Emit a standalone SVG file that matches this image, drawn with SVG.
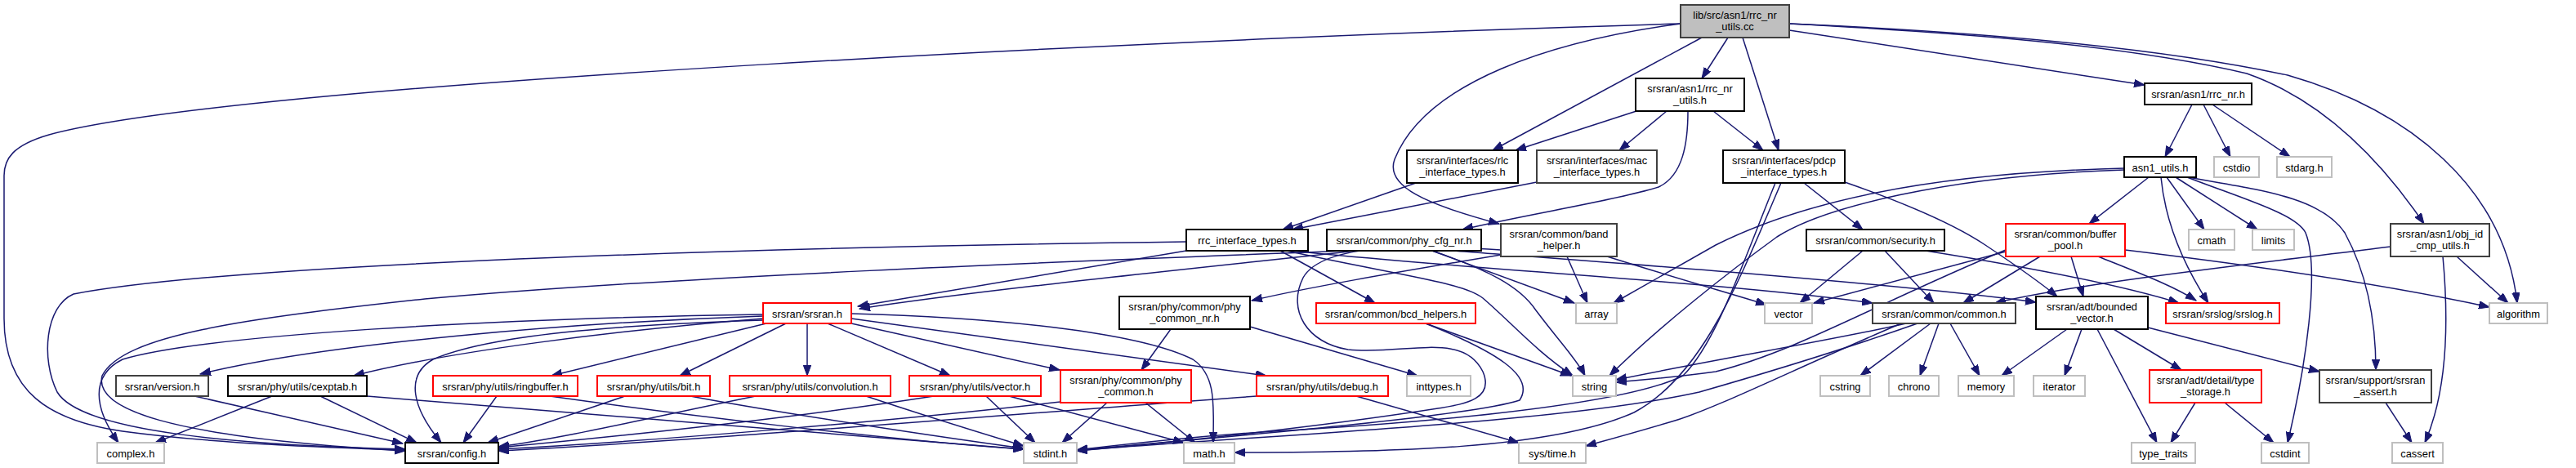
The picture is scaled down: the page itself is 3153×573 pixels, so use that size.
<svg xmlns="http://www.w3.org/2000/svg" width="3153" height="573" viewBox="0 0 3153 573">
<style>
text{font-family:"Liberation Sans",Arial,sans-serif;font-size:12.9px;fill:#000;text-anchor:middle}
rect{fill:#fff;stroke-width:2}
.k rect{stroke:#000}
.d rect{stroke:#404040}
.g rect{stroke:#bfbfbf}
.r rect{stroke:#ff0000}
.root rect{fill:#bfbfbf;stroke:#404040}
#edges path{fill:none;stroke:#191970;stroke-width:1.5;marker-end:url(#ah)}
</style>
<defs>
<marker id="ah" markerUnits="userSpaceOnUse" markerWidth="14" markerHeight="10" refX="13" refY="4.75" orient="auto">
<path d="M0,0 L13,4.75 L0,9.5 z" fill="#191970" stroke="#191970" stroke-width="1"/>
</marker>
</defs>
<rect x="0" y="0" width="3153" height="573" style="fill:#fff;stroke:none"/>
<g id="edges">
<path d="M2115,46 L2083,96"/>
<path d="M2083,46 L1827,184"/>
<path d="M2133,46 L2177,184"/>
<path d="M2057,29 C1900,50 1745,100 1707,195 C1695,228 1745,250 1835,274"/>
<path d="M2057,29 C1500,45 300,100 60,165 C15,178 5,195 5,215 L5,390 C5,480 60,515 150,528 C260,543 400,548 496,551"/>
<path d="M2190,37 L2625,104"/>
<path d="M2190,29 C2400,40 2600,55 2750,90 C2850,125 2920,205 2967,274"/>
<path d="M2190,29 C2450,40 2650,60 2800,92 C2950,135 3065,230 3081,371"/>
<path d="M2003,136 L1855,184"/>
<path d="M2040,136 L1982,184"/>
<path d="M2097,136 L2158,184"/>
<path d="M2066,136 C2066,175 2060,215 2030,229 C1980,245 1870,262 1790,281"/>
<path d="M1733,224 L1570,281"/>
<path d="M1881,223 L1582,281"/>
<path d="M2208,224 L2280,281"/>
<path d="M2258,223 C2350,255 2400,280 2430,300 C2460,320 2490,340 2518,363"/>
<path d="M2173,224 C2130,330 2100,420 2060,460 C1980,500 1700,520 1560,528 C1450,535 1370,545 1318,551"/>
<path d="M2180,224 C2130,340 2085,460 2000,505 C1900,550 1700,554 1511,554"/>
<path d="M2683,128 L2650,192"/>
<path d="M2697,128 L2730,192"/>
<path d="M2708,128 L2803,192"/>
<path d="M2630,217 L2557,274"/>
<path d="M2645,217 C2650,270 2670,320 2703,371"/>
<path d="M2652,217 L2698,281"/>
<path d="M2663,217 L2763,281"/>
<path d="M2677,217 C2750,245 2810,262 2822,285 C2840,330 2822,450 2800,542"/>
<path d="M2678,217 C2760,232 2840,240 2870,285 C2900,340 2908,400 2908,453"/>
<path d="M2600,206 C2350,212 2200,250 2100,300 L1975,371"/>
<path d="M2600,208 C2380,215 2230,255 2175,290 C2120,330 2030,400 1970,460"/>
<path d="M3007,314 L3070,371"/>
<path d="M2990,314 C2998,400 2995,480 2968,542"/>
<path d="M2926,302 C2800,318 2550,345 2442,371"/>
<path d="M2601,306 C2800,330 2950,355 3047,376"/>
<path d="M2568,314 C2620,335 2660,350 2688,368"/>
<path d="M2455,308 L2220,371"/>
<path d="M2497,314 L2403,371"/>
<path d="M2535,314 L2550,363"/>
<path d="M2455,306 C2300,370 2200,430 2100,455 C2050,462 2010,465 1978,468"/>
<path d="M2280,307 L2203,371"/>
<path d="M2307,307 L2367,371"/>
<path d="M2357,307 C2500,330 2600,350 2667,371"/>
<path d="M2363,396 L2277,460"/>
<path d="M2373,396 L2350,460"/>
<path d="M2387,396 L2423,460"/>
<path d="M2333,396 C2250,415 2100,440 1978,465"/>
<path d="M2347,396 C2250,430 2150,460 2080,480 C1900,520 1500,535 1318,552"/>
<path d="M2327,396 C2200,450 2100,500 2050,515 C2000,530 1970,538 1941,546"/>
<path d="M2530,403 L2450,460"/>
<path d="M2548,403 L2527,460"/>
<path d="M2567,403 L2640,542"/>
<path d="M2587,403 L2670,453"/>
<path d="M2629,401 L2839,455"/>
<path d="M2687,493 L2657,542"/>
<path d="M2723,493 L2783,542"/>
<path d="M2920,493 L2952,542"/>
<path d="M1452,307 L1050,375"/>
<path d="M1452,296 C1000,302 300,320 90,360 C55,375 50,440 70,480 C100,530 300,545 496,550"/>
<path d="M1567,307 L1683,371"/>
<path d="M1575,307 C1700,335 1790,345 1815,365 C1850,395 1880,430 1925,460"/>
<path d="M1580,307 C1800,330 2100,345 2292,371"/>
<path d="M1660,307 C1450,330 1200,355 1052,378"/>
<path d="M1650,307 C1300,320 800,340 520,366 C300,390 150,410 125,460 C115,500 200,535 496,552"/>
<path d="M1753,307 L1927,371"/>
<path d="M1753,307 C1820,330 1860,350 1880,380 C1910,420 1930,440 1940,460"/>
<path d="M1777,307 C1950,320 2300,345 2492,370"/>
<path d="M1837,312 C1700,335 1600,352 1532,368"/>
<path d="M1918,314 L1943,371"/>
<path d="M1967,314 C2050,340 2120,360 2162,373"/>
<path d="M1837,306 C1750,300 1620,295 1595,340 C1575,380 1600,420 1650,428 C1720,435 1790,405 1815,455 C1830,490 1790,495 1760,500 C1600,525 1400,545 1318,552"/>
<path d="M934,387 C700,395 400,420 245,458"/>
<path d="M934,390 C750,405 550,430 433,460"/>
<path d="M934,385 C600,390 250,410 150,440 C110,460 115,500 145,542"/>
<path d="M934,392 C750,398 600,410 530,440 C495,460 505,500 540,542"/>
<path d="M938,396 L675,460"/>
<path d="M962,396 L832,460"/>
<path d="M988,396 L988,460"/>
<path d="M1013,396 L1163,460"/>
<path d="M1042,396 L1297,453"/>
<path d="M1042,390 L1550,460"/>
<path d="M1042,384 C1250,390 1400,410 1460,440 C1490,460 1485,500 1485,542"/>
<path d="M238,485 L493,543"/>
<path d="M333,485 L190,542"/>
<path d="M392,485 L510,542"/>
<path d="M449,485 C700,505 1000,530 1253,550"/>
<path d="M608,485 L567,542"/>
<path d="M673,485 C850,510 1100,540 1253,550"/>
<path d="M765,485 L597,542"/>
<path d="M845,485 C950,505 1150,535 1253,549"/>
<path d="M925,485 C800,510 700,535 610,547"/>
<path d="M1060,485 C1120,505 1200,530 1253,546"/>
<path d="M1143,485 C950,515 750,535 610,548"/>
<path d="M1207,485 L1267,542"/>
<path d="M1235,485 L1449,542"/>
<path d="M1298,492 C1100,515 800,540 610,550"/>
<path d="M1355,493 L1300,542"/>
<path d="M1402,493 L1463,542"/>
<path d="M1538,485 C1200,510 850,540 610,552"/>
<path d="M1660,485 L1859,542"/>
<path d="M1433,403 L1397,453"/>
<path d="M1530,400 L1735,460"/>
<path d="M1745,396 L1923,460"/>
<path d="M1745,396 C1830,430 1880,460 1860,490 C1800,510 1500,535 1318,551"/>
</g>
<g id="n_root" class="root"><rect x="2057" y="6" width="133" height="40"/><text x="2123.5" y="22.5">lib/src/asn1/rrc_nr</text><text x="2123.5" y="37">_utils.cc</text></g>
<g id="n_rrc_nr_utils" class="k"><rect x="2002" y="96" width="133" height="40"/><text x="2068.5" y="112.5">srsran/asn1/rrc_nr</text><text x="2068.5" y="127">_utils.h</text></g>
<g id="n_rlc" class="k"><rect x="1722" y="184" width="136" height="40"/><text x="1790" y="200.5">srsran/interfaces/rlc</text><text x="1790" y="215">_interface_types.h</text></g>
<g id="n_mac" class="d"><rect x="1881" y="184" width="147" height="40"/><text x="1954.5" y="200.5">srsran/interfaces/mac</text><text x="1954.5" y="215">_interface_types.h</text></g>
<g id="n_pdcp" class="k"><rect x="2109" y="184" width="149" height="40"/><text x="2183.5" y="200.5">srsran/interfaces/pdcp</text><text x="2183.5" y="215">_interface_types.h</text></g>
<g id="n_rrc_nr" class="k"><rect x="2625" y="102" width="131" height="26"/><text x="2690.5" y="120">srsran/asn1/rrc_nr.h</text></g>
<g id="n_asn1_utils" class="k"><rect x="2600" y="192" width="88" height="25"/><text x="2644" y="209.5">asn1_utils.h</text></g>
<g id="n_cstdio" class="g"><rect x="2710" y="192" width="55" height="25"/><text x="2737.5" y="209.5">cstdio</text></g>
<g id="n_stdarg" class="g"><rect x="2787" y="192" width="67" height="25"/><text x="2820.5" y="209.5">stdarg.h</text></g>
<g id="n_obj_id" class="d"><rect x="2926" y="274" width="121" height="40"/><text x="2986.5" y="290.5">srsran/asn1/obj_id</text><text x="2986.5" y="305">_cmp_utils.h</text></g>
<g id="n_algorithm" class="g"><rect x="3047" y="371" width="71" height="25"/><text x="3082.5" y="388.5">algorithm</text></g>
<g id="n_cmath" class="g"><rect x="2679" y="281" width="56" height="25"/><text x="2707" y="298.5">cmath</text></g>
<g id="n_limits" class="g"><rect x="2757" y="281" width="51" height="25"/><text x="2782.5" y="298.5">limits</text></g>
<g id="n_buffer_pool" class="r"><rect x="2455" y="274" width="146" height="40"/><text x="2528" y="290.5">srsran/common/buffer</text><text x="2528" y="305">_pool.h</text></g>
<g id="n_security" class="k"><rect x="2211" y="281" width="169" height="26"/><text x="2295.5" y="298.5">srsran/common/security.h</text></g>
<g id="n_band_helper" class="d"><rect x="1837" y="274" width="142" height="40"/><text x="1908" y="290.5">srsran/common/band</text><text x="1908" y="305">_helper.h</text></g>
<g id="n_phy_cfg_nr" class="k"><rect x="1624" y="281" width="189" height="26"/><text x="1718.5" y="298.5">srsran/common/phy_cfg_nr.h</text></g>
<g id="n_rrc_interface" class="k"><rect x="1452" y="281" width="149" height="26"/><text x="1526.5" y="298.5">rrc_interface_types.h</text></g>
<g id="n_srsran" class="r"><rect x="934" y="371" width="108" height="25"/><text x="988" y="388.5">srsran/srsran.h</text></g>
<g id="n_phy_common_nr" class="k"><rect x="1370" y="363" width="160" height="40"/><text x="1450" y="379.5">srsran/phy/common/phy</text><text x="1450" y="394">_common_nr.h</text></g>
<g id="n_bcd" class="r"><rect x="1611" y="371" width="195" height="25"/><text x="1708.5" y="388.5">srsran/common/bcd_helpers.h</text></g>
<g id="n_array" class="g"><rect x="1929" y="371" width="50" height="25"/><text x="1954" y="388.5">array</text></g>
<g id="n_vector" class="g"><rect x="2160" y="371" width="58" height="25"/><text x="2189" y="388.5">vector</text></g>
<g id="n_common" class="d"><rect x="2292" y="371" width="175" height="25"/><text x="2379.5" y="388.5">srsran/common/common.h</text></g>
<g id="n_bounded_vector" class="k"><rect x="2492" y="363" width="137" height="40"/><text x="2560.5" y="379.5">srsran/adt/bounded</text><text x="2560.5" y="394">_vector.h</text></g>
<g id="n_srslog" class="r"><rect x="2651" y="371" width="139" height="25"/><text x="2720.5" y="388.5">srsran/srslog/srslog.h</text></g>
<g id="n_cstring" class="g"><rect x="2228" y="460" width="61" height="25"/><text x="2258.5" y="477.5">cstring</text></g>
<g id="n_chrono" class="g"><rect x="2312" y="460" width="61" height="25"/><text x="2342.5" y="477.5">chrono</text></g>
<g id="n_memory" class="g"><rect x="2397" y="460" width="68" height="25"/><text x="2431" y="477.5">memory</text></g>
<g id="n_iterator" class="g"><rect x="2489" y="460" width="63" height="25"/><text x="2520.5" y="477.5">iterator</text></g>
<g id="n_type_storage" class="r"><rect x="2631" y="453" width="137" height="40"/><text x="2699.5" y="469.5">srsran/adt/detail/type</text><text x="2699.5" y="484">_storage.h</text></g>
<g id="n_srsran_assert" class="d"><rect x="2839" y="453" width="137" height="40"/><text x="2907.5" y="469.5">srsran/support/srsran</text><text x="2907.5" y="484">_assert.h</text></g>
<g id="n_type_traits" class="g"><rect x="2609" y="542" width="78" height="25"/><text x="2648" y="559.5">type_traits</text></g>
<g id="n_cstdint" class="g"><rect x="2768" y="542" width="58" height="25"/><text x="2797" y="559.5">cstdint</text></g>
<g id="n_cassert" class="g"><rect x="2928" y="542" width="62" height="25"/><text x="2959" y="559.5">cassert</text></g>
<g id="n_systime" class="g"><rect x="1859" y="542" width="82" height="25"/><text x="1900" y="559.5">sys/time.h</text></g>
<g id="n_string" class="g"><rect x="1925" y="460" width="53" height="25"/><text x="1951.5" y="477.5">string</text></g>
<g id="n_inttypes" class="g"><rect x="1722" y="460" width="78" height="25"/><text x="1761" y="477.5">inttypes.h</text></g>
<g id="n_debug" class="r"><rect x="1538" y="460" width="161" height="25"/><text x="1618.5" y="477.5">srsran/phy/utils/debug.h</text></g>
<g id="n_math" class="g"><rect x="1449" y="542" width="62" height="25"/><text x="1480" y="559.5">math.h</text></g>
<g id="n_stdint" class="g"><rect x="1253" y="542" width="65" height="25"/><text x="1285.5" y="559.5">stdint.h</text></g>
<g id="n_phy_common" class="r"><rect x="1298" y="453" width="160" height="40"/><text x="1378" y="469.5">srsran/phy/common/phy</text><text x="1378" y="484">_common.h</text></g>
<g id="n_vector_h" class="r"><rect x="1113" y="460" width="161" height="25"/><text x="1193.5" y="477.5">srsran/phy/utils/vector.h</text></g>
<g id="n_convolution" class="r"><rect x="893" y="460" width="197" height="25"/><text x="991.5" y="477.5">srsran/phy/utils/convolution.h</text></g>
<g id="n_bit" class="r"><rect x="731" y="460" width="138" height="25"/><text x="800" y="477.5">srsran/phy/utils/bit.h</text></g>
<g id="n_ringbuffer" class="r"><rect x="530" y="460" width="177" height="25"/><text x="618.5" y="477.5">srsran/phy/utils/ringbuffer.h</text></g>
<g id="n_config" class="k"><rect x="496" y="542" width="114" height="25"/><text x="553" y="559.5">srsran/config.h</text></g>
<g id="n_cexptab" class="k"><rect x="279" y="460" width="170" height="25"/><text x="364" y="477.5">srsran/phy/utils/cexptab.h</text></g>
<g id="n_version" class="d"><rect x="142" y="460" width="113" height="25"/><text x="198.5" y="477.5">srsran/version.h</text></g>
<g id="n_complex" class="g"><rect x="119" y="542" width="82" height="25"/><text x="160" y="559.5">complex.h</text></g>
</svg>
